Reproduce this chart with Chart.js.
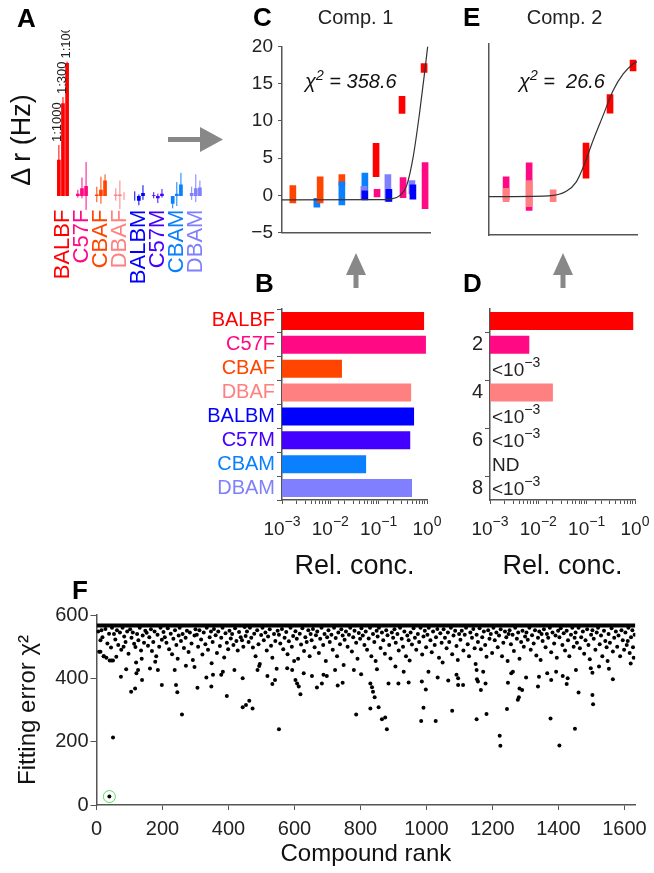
<!DOCTYPE html>
<html>
<head>
<meta charset="utf-8">
<script src="https://cdn.jsdelivr.net/npm/chart.js@4.4.1/dist/chart.umd.min.js"></script>
<style>
    body { margin: 0; background: #fff; }
    #fig { position: relative; width: 654px; height: 873px; overflow: hidden;
           font-family: 'Liberation Sans', Arial, sans-serif; color: #111; }
    canvas { position: absolute; }
    .lbl { position: absolute; line-height: 1; white-space: nowrap; }
    .panel { font-weight: bold; font-size: 26px; color: #000; }
    .lbl sup { font-size: 14px; line-height: 0; vertical-align: 8px; }
</style>
</head>
<body>
<div id="fig">
    <canvas id="chartA" width="225" height="260" style="left:0;top:30px"></canvas>
    <canvas id="chartC" width="200" height="219" style="left:240px;top:30px"></canvas>
    <canvas id="chartE" width="184" height="219" style="left:470px;top:30px"></canvas>
    <canvas id="chartB" width="265" height="292" style="left:190px;top:295px"></canvas>
    <canvas id="chartD" width="214" height="292" style="left:440px;top:295px"></canvas>
    <canvas id="chartF" width="654" height="283" style="left:0;top:590px"></canvas>

    <svg width="654" height="873" style="position:absolute;left:0;top:0">
        <g fill="#888">
            <rect x="168" y="137" width="33" height="5"></rect>
            <polygon points="200,127 223,139.5 200,152"></polygon>
            <rect x="353.5" y="274" width="5" height="14"></rect>
            <polygon points="346,275 356,253 366,275"></polygon>
            <rect x="560.5" y="274" width="5" height="14"></rect>
            <polygon points="553,275 563,253 573,275"></polygon>
        </g>
    </svg>

    <div class="lbl panel" style="left:17px;top:4.6px">A</div>
    <div class="lbl panel" style="left:253px;top:3.6px">C</div>
    <div class="lbl panel" style="left:463px;top:3.6px">E</div>
    <div class="lbl panel" style="left:255px;top:269.6px">B</div>
    <div class="lbl panel" style="left:463px;top:269.6px">D</div>
    <div class="lbl panel" style="left:72px;top:576.6px">F</div>

    <div class="lbl" style="left:21px;top:140px;font-size:27px;transform:translate(-50%,-50%) rotate(-90deg)">Δ r (Hz)</div>
    <div class="lbl" style="left:255.5px;width:200px;text-align:center;top:6.7px;font-size:20px;color:#222">Comp. 1</div>
    <div class="lbl" style="left:464.5px;width:200px;text-align:center;top:6.7px;font-size:20px;color:#222">Comp. 2</div>
    <div class="lbl" style="left:305px;top:71px;font-size:20px;font-style:italic;color:#111">χ<sup>2</sup> = 358.6</div>
    <div class="lbl" style="left:519px;top:71px;font-size:20px;font-style:italic;color:#111">χ<sup>2</sup> =&nbsp; 26.6</div>
</div>

<script>
// strains, same order in every panel
const strains = ["BALBF", "C57F", "CBAF", "DBAF", "BALBM", "C57M", "CBAM", "DBAM"];
const strainColors = ["#ff0000", "#ff0a84", "#ff4500", "#ff8080", "#0000ff", "#4400ff", "#0a80ff", "#8080ff"];

// panel A: mean response per dilution (Hz) and error range
const dilutions = ["1:1000", "1:300", "1:100"];
const aMean1000 = [4.7, 0.3, 0.2, 0.2, 0.0, 0.1, -1.0, 0.4];
const aMean300 = [12.0, 1.0, 0.8, 0.2, -0.6, -0.3, 0.3, 1.0];
const aMean100 = [17.2, 1.3, 2.0, 0.0, 0.4, 0.3, 1.5, 1.1];
const aLo1000 = [2.8, -0.2, -0.8, -0.6, -0.6, -0.3, -1.6, -0.5];
const aHi1000 = [6.6, 0.8, 1.2, 1.0, 0.6, 0.5, -0.4, 1.2];
const aLo300 = [11.2, -0.3, -1.0, -1.7, -1.2, -0.9, -1.3, -0.8];
const aHi300 = [12.8, 2.4, 2.5, 2.0, 0.2, 0.3, 1.8, 2.8];
const aLo100 = [17.0, -1.8, 1.3, -0.5, -0.5, -0.2, 0.5, 0.2];
const aHi100 = [17.4, 4.4, 2.8, 0.5, 1.4, 0.9, 3.0, 2.0];

// panel C (comp. 1): log conc, response range, strain index
const c1X = [-4.17, -3.44, -3.34, -2.68, -2.68, -1.98, -2.01, -1.98, -1.64, -1.61, -1.28, -1.25, -0.85, -0.82, -0.55, -0.52, -0.18, -0.15];
const c1Lo = [-1.0, -1.6, -1.0, 1.3, -1.3, 0.7, -0.5, -0.6, 2.5, -0.2, -0.8, -0.8, 11.0, -0.3, 0.2, -0.5, 16.5, -1.8];
const c1Hi = [1.3, -0.4, 2.5, 2.8, 1.8, 3.0, 1.2, 0.6, 7.0, 0.8, 2.8, 0.8, 13.3, 2.4, 2.0, 1.4, 17.7, 4.4];
const c1Strain = [2, 6, 2, 2, 6, 6, 7, 4, 0, 1, 7, 4, 0, 1, 7, 4, 0, 1];
const c1CurveX = [-4.5, -1.5, -1.2, -0.91, -0.71, -0.51, -0.31, -0.15, -0.07];
const c1CurveY = [-0.6, -0.58, -0.5, 0.0, 1.3, 5.2, 11.3, 17.0, 20.0];

// panel E (comp. 2)
const c2X = [-3.98, -3.98, -3.28, -3.28, -2.55, -1.55, -0.82, -0.12];
const c2Lo = [-0.4, -0.65, -1.8, -1.3, -0.65, 2.4, 10.9, 16.4];
const c2Hi = [2.6, 1.1, 4.4, 2.1, 0.9, 7.0, 13.3, 17.8];
const c2Strain = [1, 3, 1, 3, 3, 0, 0, 0];
const c2CurveX = [-4.5, -2.7, -2.15, -1.85, -1.63, -1.33, -1.03, -0.73, -0.42, -0.12, 0];
const c2CurveY = [0, 0.1, 0.7, 1.9, 3.9, 7.4, 10.6, 13.8, 16.0, 17.3, 17.6];

// panels B and D: relative concentration
const relTickExps = [-3, -2, -1, 0];
const bConc = [0.87, 0.95, 0.0174, 0.47, 0.54, 0.45, 0.055, 0.49];
const dConc = [0.92, 0.0065, null, 0.020, null, null, null, null];
const dLabels = ["", "2", "", "4", "", "6", "", "8"];
const dNotes = [null, null, "<10^-3", null, "<10^-3", "<10^-3", "ND", "<10^-3"];

// panel F: fitting error per compound rank
const fXTicks = [0, 200, 400, 600, 800, 1000, 1200, 1400, 1600];
const fBand = [[1, 567], [1633, 567]];
const fPick = [[39, 26.6]];
const fScatter = [
    [39, 26.6], [50, 213], [74, 405], [90, 429], [105, 358], [117, 368], [138, 395], [126, 426], [121, 416], [198, 379],
    [241, 379], [245, 356], [259, 286], [306, 370], [237, 426], [186, 426], [162, 431], [271, 440], [297, 436], [333, 403],
    [40, 456], [45, 456], [50, 456], [12, 484], [22, 470],
    [395, 344], [443, 309], [453, 316], [463, 329], [473, 305], [553, 239], [618, 350], [348, 374], [353, 411], [443, 400],
    [378, 411], [383, 421], [418, 426], [518, 407], [533, 382], [541, 395], [488, 426], [493, 439], [603, 395], [608, 384],
    [613, 374], [668, 371], [683, 384], [688, 411], [698, 407], [731, 377], [746, 386], [578, 432], [593, 426], [628, 416],
    [653, 407], [723, 426],
    [787, 286], [830, 305], [855, 309], [865, 271], [875, 276], [880, 239], [830, 384], [835, 372], [838, 358], [843, 340],
    [885, 384], [915, 384], [946, 387], [984, 265], [1028, 265], [991, 307], [998, 365], [986, 390], [1078, 298], [1152, 271],
    [1182, 287], [1165, 363], [1153, 397], [1156, 390], [1096, 379], [1111, 379], [1091, 411], [1096, 400], [1034, 403], [1006, 421],
    [1066, 393], [802, 413], [780, 426], [850, 429], [906, 437], [931, 421], [1179, 384], [1152, 426], [1172, 421],
    [1222, 219], [1224, 187], [1244, 303], [1247, 386], [1257, 416], [1262, 421], [1277, 332], [1280, 340], [1282, 368], [1290, 363],
    [1302, 403], [1338, 374], [1378, 395], [1366, 416], [1376, 273], [1403, 188], [1450, 241], [1461, 355], [1503, 347], [1505, 318],
    [1565, 397], [1393, 421], [1428, 400], [1425, 382], [1453, 426], [1413, 407], [1503, 418], [1498, 432], [1523, 437], [1553, 430],
    [1619, 447], [1341, 405],
    [5, 548], [12, 520], [18, 530], [22, 470], [27, 556], [33, 510], [38, 541], [44, 497], [47, 560], [8, 484], [15, 552], [30, 465],
    [53, 540], [57, 523], [62, 552], [66, 505], [71, 545], [75, 490], [79, 560], [84, 532], [88, 515], [93, 548], [97, 478], [60, 468], [82, 500],
    [102, 555], [106, 528], [110, 545], [114, 509], [118, 499], [123, 540], [127, 520], [131, 560], [135, 488], [140, 535], [144, 512], [148, 550], [120, 450], [137, 462],
    [152, 544], [156, 503], [160, 530], [165, 555], [168, 486], [172, 515], [176, 548], [181, 470], [185, 538], [190, 500], [194, 560], [198, 522], [178, 452],
    [203, 546], [207, 530], [212, 512], [216, 558], [220, 492], [225, 541], [229, 476], [233, 525], [238, 552], [242, 505], [246, 462], [249, 535],
    [252, 560], [256, 518], [261, 540], [265, 496], [270, 528], [274, 550], [279, 483], [283, 545], [288, 510], [292, 458], [297, 535], [300, 555],
    [304, 538], [308, 500], [312, 552], [317, 523], [321, 475], [325, 545], [330, 508], [334, 560], [338, 490], [343, 530], [347, 548], [349, 448],
    [352, 515], [356, 556], [361, 536], [365, 480], [369, 548], [374, 502], [378, 528], [382, 560], [387, 466], [391, 542], [395, 512], [399, 492],
    [403, 550], [407, 526], [411, 540], [415, 505], [420, 558], [424, 518], [428, 488], [432, 546], [437, 530], [441, 520], [445, 500], [449, 562],
    [452, 534], [456, 548], [461, 515], [465, 560], [469, 528], [474, 497], [478, 541], [482, 470], [487, 552], [491, 508], [495, 445], [499, 537],
    [503, 560], [507, 520], [512, 545], [516, 488], [520, 532], [525, 555], [529, 503], [533, 465], [538, 540], [542, 518], [546, 430], [549, 550],
    [553, 538], [557, 510], [562, 556], [566, 492], [570, 528], [575, 546], [579, 476], [583, 517], [588, 560], [592, 500], [596, 534], [599, 455],
    [603, 549], [607, 525], [611, 462], [616, 541], [620, 507], [624, 558], [629, 486], [633, 530], [637, 515], [642, 552], [646, 470], [649, 540],
    [652, 520], [656, 556], [661, 498], [665, 536], [669, 548], [674, 480], [678, 525], [682, 560], [687, 505], [691, 540], [695, 455], [699, 530],
    [703, 552], [707, 515], [712, 538], [716, 490], [720, 560], [725, 527], [729, 470], [733, 545], [738, 508], [742, 555], [746, 535], [749, 442],
    [752, 522], [756, 548], [761, 500], [765, 538], [769, 560], [774, 485], [778, 530], [782, 550], [787, 512], [791, 462], [795, 543], [799, 525],
    [803, 558], [807, 535], [812, 505], [816, 548], [820, 490], [825, 526], [829, 560], [833, 470], [838, 540], [842, 515], [846, 455], [849, 550],
    [852, 532], [856, 560], [861, 496], [865, 545], [869, 520], [874, 478], [878, 552], [882, 536], [887, 505], [891, 463], [895, 545], [899, 528],
    [903, 555], [907, 512], [912, 540], [916, 488], [920, 560], [925, 525], [929, 500], [933, 548], [938, 470], [942, 535], [946, 520], [949, 456],
    [952, 545], [956, 507], [961, 558], [965, 528], [969, 490], [974, 540], [978, 515], [982, 560], [987, 475], [991, 532], [995, 550], [999, 498],
    [1003, 538], [1007, 560], [1012, 520], [1016, 482], [1020, 548], [1025, 505], [1029, 530], [1033, 556], [1038, 465], [1042, 542], [1046, 512], [1049, 450],
    [1052, 555], [1056, 528], [1061, 495], [1065, 545], [1069, 515], [1074, 560], [1078, 476], [1082, 535], [1087, 550], [1091, 502], [1095, 458], [1099, 540],
    [1103, 522], [1107, 550], [1112, 488], [1116, 538], [1120, 560], [1125, 508], [1129, 470], [1133, 545], [1138, 528], [1142, 556], [1146, 495], [1149, 445],
    [1152, 538], [1156, 515], [1161, 558], [1165, 492], [1169, 530], [1174, 548], [1178, 505], [1182, 468], [1187, 552], [1191, 525], [1195, 540], [1199, 480],
    [1203, 560], [1207, 520], [1212, 545], [1216, 498], [1220, 535], [1225, 555], [1229, 470], [1233, 512], [1238, 548], [1242, 530], [1246, 455], [1249, 540],
    [1252, 552], [1256, 508], [1261, 538], [1265, 486], [1269, 560], [1274, 525], [1278, 545], [1282, 462], [1287, 515], [1291, 550], [1295, 500], [1299, 532],
    [1303, 545], [1307, 522], [1312, 560], [1316, 490], [1320, 536], [1325, 510], [1329, 552], [1333, 472], [1338, 528], [1342, 548], [1346, 458], [1349, 540],
    [1352, 518], [1356, 555], [1361, 498], [1365, 540], [1369, 528], [1374, 560], [1378, 482], [1382, 545], [1387, 510], [1391, 535], [1395, 465], [1399, 550],
    [1403, 530], [1407, 558], [1412, 505], [1416, 542], [1420, 488], [1425, 550], [1429, 520], [1433, 470], [1438, 538], [1442, 560], [1446, 500], [1449, 528],
    [1452, 545], [1456, 512], [1461, 560], [1465, 495], [1469, 530], [1474, 548], [1478, 478], [1482, 520], [1487, 555], [1491, 505], [1495, 460], [1499, 538],
    [1503, 552], [1507, 525], [1512, 490], [1516, 545], [1520, 560], [1525, 508], [1529, 535], [1533, 470], [1538, 550], [1542, 518], [1546, 498], [1549, 455],
    [1552, 540], [1556, 512], [1561, 558], [1565, 485], [1569, 528], [1574, 548], [1578, 500], [1582, 535], [1587, 470], [1591, 552], [1595, 520], [1599, 490],
    [1603, 545], [1607, 505], [1612, 560], [1616, 480], [1620, 530], [1624, 552], [1628, 465], [1631, 538], [1610, 518], [1626, 498]
];

const FONT = "'Liberation Sans', Arial, sans-serif";
const AXIS = "#555";
Chart.defaults.font.family = FONT;
Chart.defaults.color = "#222";
Chart.defaults.animation = false;
Chart.defaults.responsive = false;
Chart.defaults.plugins.legend.display = false;
Chart.defaults.plugins.tooltip.enabled = false;

// force scale sizes so plot areas line up with the figure
function fixW(w) { return function (scale) { scale.width = w; }; }
function fixH(h) { return function (scale) { scale.height = h; }; }

function expText(e) { return e < 0 ? "\u2212" + (-e) : String(e); }

// "10" with a raised exponent
function drawSup(ctx, x, baseY, base, exp, align) {
    ctx.font = "19px " + FONT;
    const wb = ctx.measureText(base).width;
    ctx.font = "14px " + FONT;
    const we = ctx.measureText(exp).width;
    const x0 = align === "center" ? x - (wb + we) / 2 : x;
    ctx.textAlign = "left";
    ctx.textBaseline = "alphabetic";
    ctx.fillStyle = "#222";
    ctx.font = "19px " + FONT;
    ctx.fillText(base, x0, baseY);
    ctx.font = "14px " + FONT;
    ctx.fillText(exp, x0 + wb, baseY - 9);
}

// ---------- panel A ----------
const aMeans = [aMean1000, aMean300, aMean100];
const aLos = [aLo1000, aLo300, aLo100];
const aHis = [aHi1000, aHi300, aHi100];

const errorBarPlugin = {
    id: "errorBars",
    afterDatasetsDraw(chart) {
        const ctx = chart.ctx;
        const y = chart.scales.y;
        ctx.save();
        aMeans.forEach((m, i) => {
            const meta = chart.getDatasetMeta(i);
            meta.data.forEach((bar, j) => {
                ctx.strokeStyle = strainColors[j];
                ctx.lineWidth = 1;
                ctx.beginPath();
                ctx.moveTo(bar.x, y.getPixelForValue(aLos[i][j]));
                ctx.lineTo(bar.x, y.getPixelForValue(aHis[i][j]));
                ctx.stroke();
            });
            // dilution label above the BALBF bar
            const first = meta.data[0];
            const top = Math.min(first.y, y.getPixelForValue(aHis[i][0]));
            ctx.save();
            ctx.translate(first.x - 1, top - 3);
            ctx.rotate(-Math.PI / 2);
            ctx.font = "13px " + FONT;
            ctx.fillStyle = "#222";
            ctx.textAlign = "left";
            ctx.textBaseline = "middle";
            ctx.fillText(dilutions[i], 0, 0);
            ctx.restore();
        });
        ctx.restore();
    }
};

new Chart(document.getElementById("chartA"), {
    type: "bar",
    data: {
        labels: strains,
        datasets: aMeans.map(m => ({
            data: m,
            backgroundColor: strainColors,
            barPercentage: 0.9,
            categoryPercentage: 0.65
        }))
    },
    options: {
        devicePixelRatio: 1,
        layout: { padding: { left: 53.5, right: 13, top: 26.9, bottom: 0 } },
        scales: {
            x: {
                afterFit: fixH(82.4),
                grid: { display: false, drawTicks: false },
                border: { display: false },
                ticks: {
                    autoSkip: false, minRotation: 90, maxRotation: 90, padding: 2,
                    font: { size: 22 },
                    color: c => strainColors[c.index]
                }
            },
            y: { display: false, min: -1.5, max: 18 }
        }
    },
    plugins: [errorBarPlugin]
});

// ---------- panels C and E ----------
function compChart(id, xs, lo, hi, idx, cx, cy, showTicks, yWidth, padRight) {
    return new Chart(document.getElementById(id), {
        type: "bar",
        data: {
            datasets: [
                {
                    type: "line",
                    data: cx.map((x, i) => ({ x: x, y: cy[i] })),
                    borderColor: "#333",
                    borderWidth: 1.2,
                    pointRadius: 0,
                    cubicInterpolationMode: "monotone",
                    order: 0
                },
                {
                    type: "bar",
                    data: xs.map((x, i) => ({ x: x, y: [lo[i], hi[i]] })),
                    backgroundColor: idx.map(k => strainColors[k]),
                    barThickness: 6,
                    order: 1
                }
            ]
        },
        options: {
            devicePixelRatio: 1,
            layout: { padding: { left: 0, right: padRight, top: 13.3, bottom: 0 } },
            scales: {
                x: {
                    type: "linear", min: -4.5, max: 0, offset: false,
                    afterFit: fixH(14),
                    grid: { display: false },
                    border: { color: AXIS, width: 1.5 },
                    ticks: { display: false }
                },
                y: {
                    min: -5, max: 20,
                    afterFit: fixW(yWidth),
                    grid: { drawOnChartArea: false, drawTicks: showTicks, tickLength: 4, color: AXIS },
                    border: { color: AXIS, width: 1.5 },
                    ticks: {
                        display: showTicks, stepSize: 5, padding: 5,
                        font: { size: 19 },
                        callback: v => (v < 0 ? "\u2212" + Math.abs(v) : String(v))
                    }
                }
            }
        }
    });
}

compChart("chartC", c1X, c1Lo, c1Hi, c1Strain, c1CurveX, c1CurveY, true, 42, 10);
compChart("chartE", c2X, c2Lo, c2Hi, c2Strain, c2CurveX, c2CurveY, false, 19, 17);

// ---------- panels B and D ----------
const logTickPlugin = {
    id: "logTicks",
    afterDraw(chart) {
        const s = chart.scales.x;
        const ctx = chart.ctx;
        ctx.save();
        relTickExps.forEach(e => {
            drawSup(ctx, s.getPixelForValue(Math.pow(10, e)), s.top + 35, "10", expText(e), "center");
        });
        ctx.restore();
    }
};

const notesPlugin = {
    id: "notes",
    afterDraw(chart) {
        const ctx = chart.ctx;
        const y = chart.scales.y;
        const left = chart.scales.x.left + 2;
        ctx.save();
        dNotes.forEach((n, i) => {
            if (!n) return;
            const cy = y.getPixelForValue(i);
            if (n.indexOf("^") < 0) {
                ctx.font = "19px " + FONT;
                ctx.fillStyle = "#222";
                ctx.textAlign = "left";
                ctx.textBaseline = "alphabetic";
                ctx.fillText(n, left, cy + 7);
            } else {
                const parts = n.split("^");
                drawSup(ctx, left, cy + 7, parts[0], expText(+parts[1]), "left");
            }
        });
        ctx.restore();
    }
};

function relChart(id, labels, values, yWidth, padRight, tickColor, markColor, extra) {
    return new Chart(document.getElementById(id), {
        type: "bar",
        data: {
            labels: labels,
            datasets: [{
                data: values.map(v => (v == null ? null : [1e-3, v])),
                backgroundColor: strainColors,
                barPercentage: 0.75,
                categoryPercentage: 1
            }]
        },
        options: {
            devicePixelRatio: 1,
            indexAxis: "y",
            layout: { padding: { left: 0, right: padRight, top: 13, bottom: 0 } },
            scales: {
                x: {
                    type: "logarithmic", min: 1e-3, max: 1,
                    afterFit: fixH(87),
                    grid: { drawOnChartArea: false, tickLength: 4, color: AXIS },
                    border: { color: AXIS, width: 1.5 },
                    ticks: { autoSkip: false, padding: 0, callback: () => "" },
                    title: {
                        display: true, text: "Rel. conc.", color: "#111",
                        font: { size: 27 }, padding: { top: 0, bottom: 4 }
                    }
                },
                y: {
                    afterFit: fixW(yWidth),
                    grid: { drawOnChartArea: false, tickLength: 5, color: AXIS, tickColor: markColor },
                    border: { color: AXIS, width: 1.5 },
                    ticks: { autoSkip: false, padding: 2, font: { size: 20 }, color: tickColor }
                }
            }
        },
        plugins: extra
    });
}

relChart("chartB", strains, bConc, 92, 28, c => strainColors[c.index], AXIS, [logTickPlugin]);
relChart("chartD", dLabels, dConc, 50, 19, "#222",
    c => (dLabels[c.index] ? AXIS : "rgba(0,0,0,0)"), [logTickPlugin, notesPlugin]);

// ---------- panel F ----------
new Chart(document.getElementById("chartF"), {
    type: "scatter",
    data: {
        datasets: [
            {
                type: "line",
                data: fBand.map(p => ({ x: p[0], y: p[1] })),
                borderColor: "#000",
                borderWidth: 4,
                pointRadius: 0,
                order: 3
            },
            {
                data: fScatter.map(p => ({ x: p[0], y: p[1] })),
                pointRadius: 2,
                backgroundColor: "#000",
                borderWidth: 0,
                order: 2
            },
            {
                data: fPick.map(p => ({ x: p[0], y: p[1] })),
                pointRadius: 6,
                backgroundColor: "rgba(0,0,0,0)",
                borderColor: "#55dd55",
                borderWidth: 1,
                order: 1
            }
        ]
    },
    options: {
        devicePixelRatio: 1,
        layout: { padding: { left: 0, right: 16, top: 25, bottom: 0 } },
        scales: {
            x: {
                type: "linear", min: 0, max: 1633,
                afterFit: fixH(68),
                afterBuildTicks: scale => { scale.ticks = fXTicks.map(v => ({ value: v })); },
                grid: { drawOnChartArea: false, tickLength: 5, color: AXIS },
                border: { color: AXIS, width: 1.5 },
                ticks: {
                    minRotation: 0, maxRotation: 0, autoSkip: false, padding: 7, font: { size: 20 },
                    callback: v => String(v)
                },
                title: {
                    display: true, text: "Compound rank", color: "#111",
                    font: { size: 24 }, padding: { top: 0, bottom: 4 }
                }
            },
            y: {
                min: 0, max: 600,
                afterFit: fixW(96.5),
                grid: { drawOnChartArea: false, tickLength: 6, color: AXIS },
                border: { color: AXIS, width: 1.5 },
                ticks: { stepSize: 200, padding: 2, font: { size: 20 } },
                title: {
                    display: true, text: "Fitting error χ²", color: "#111",
                    font: { size: 24 }, padding: { top: 13.6, bottom: 0 }
                }
            }
        }
    }
});
</script>
</body>
</html>
